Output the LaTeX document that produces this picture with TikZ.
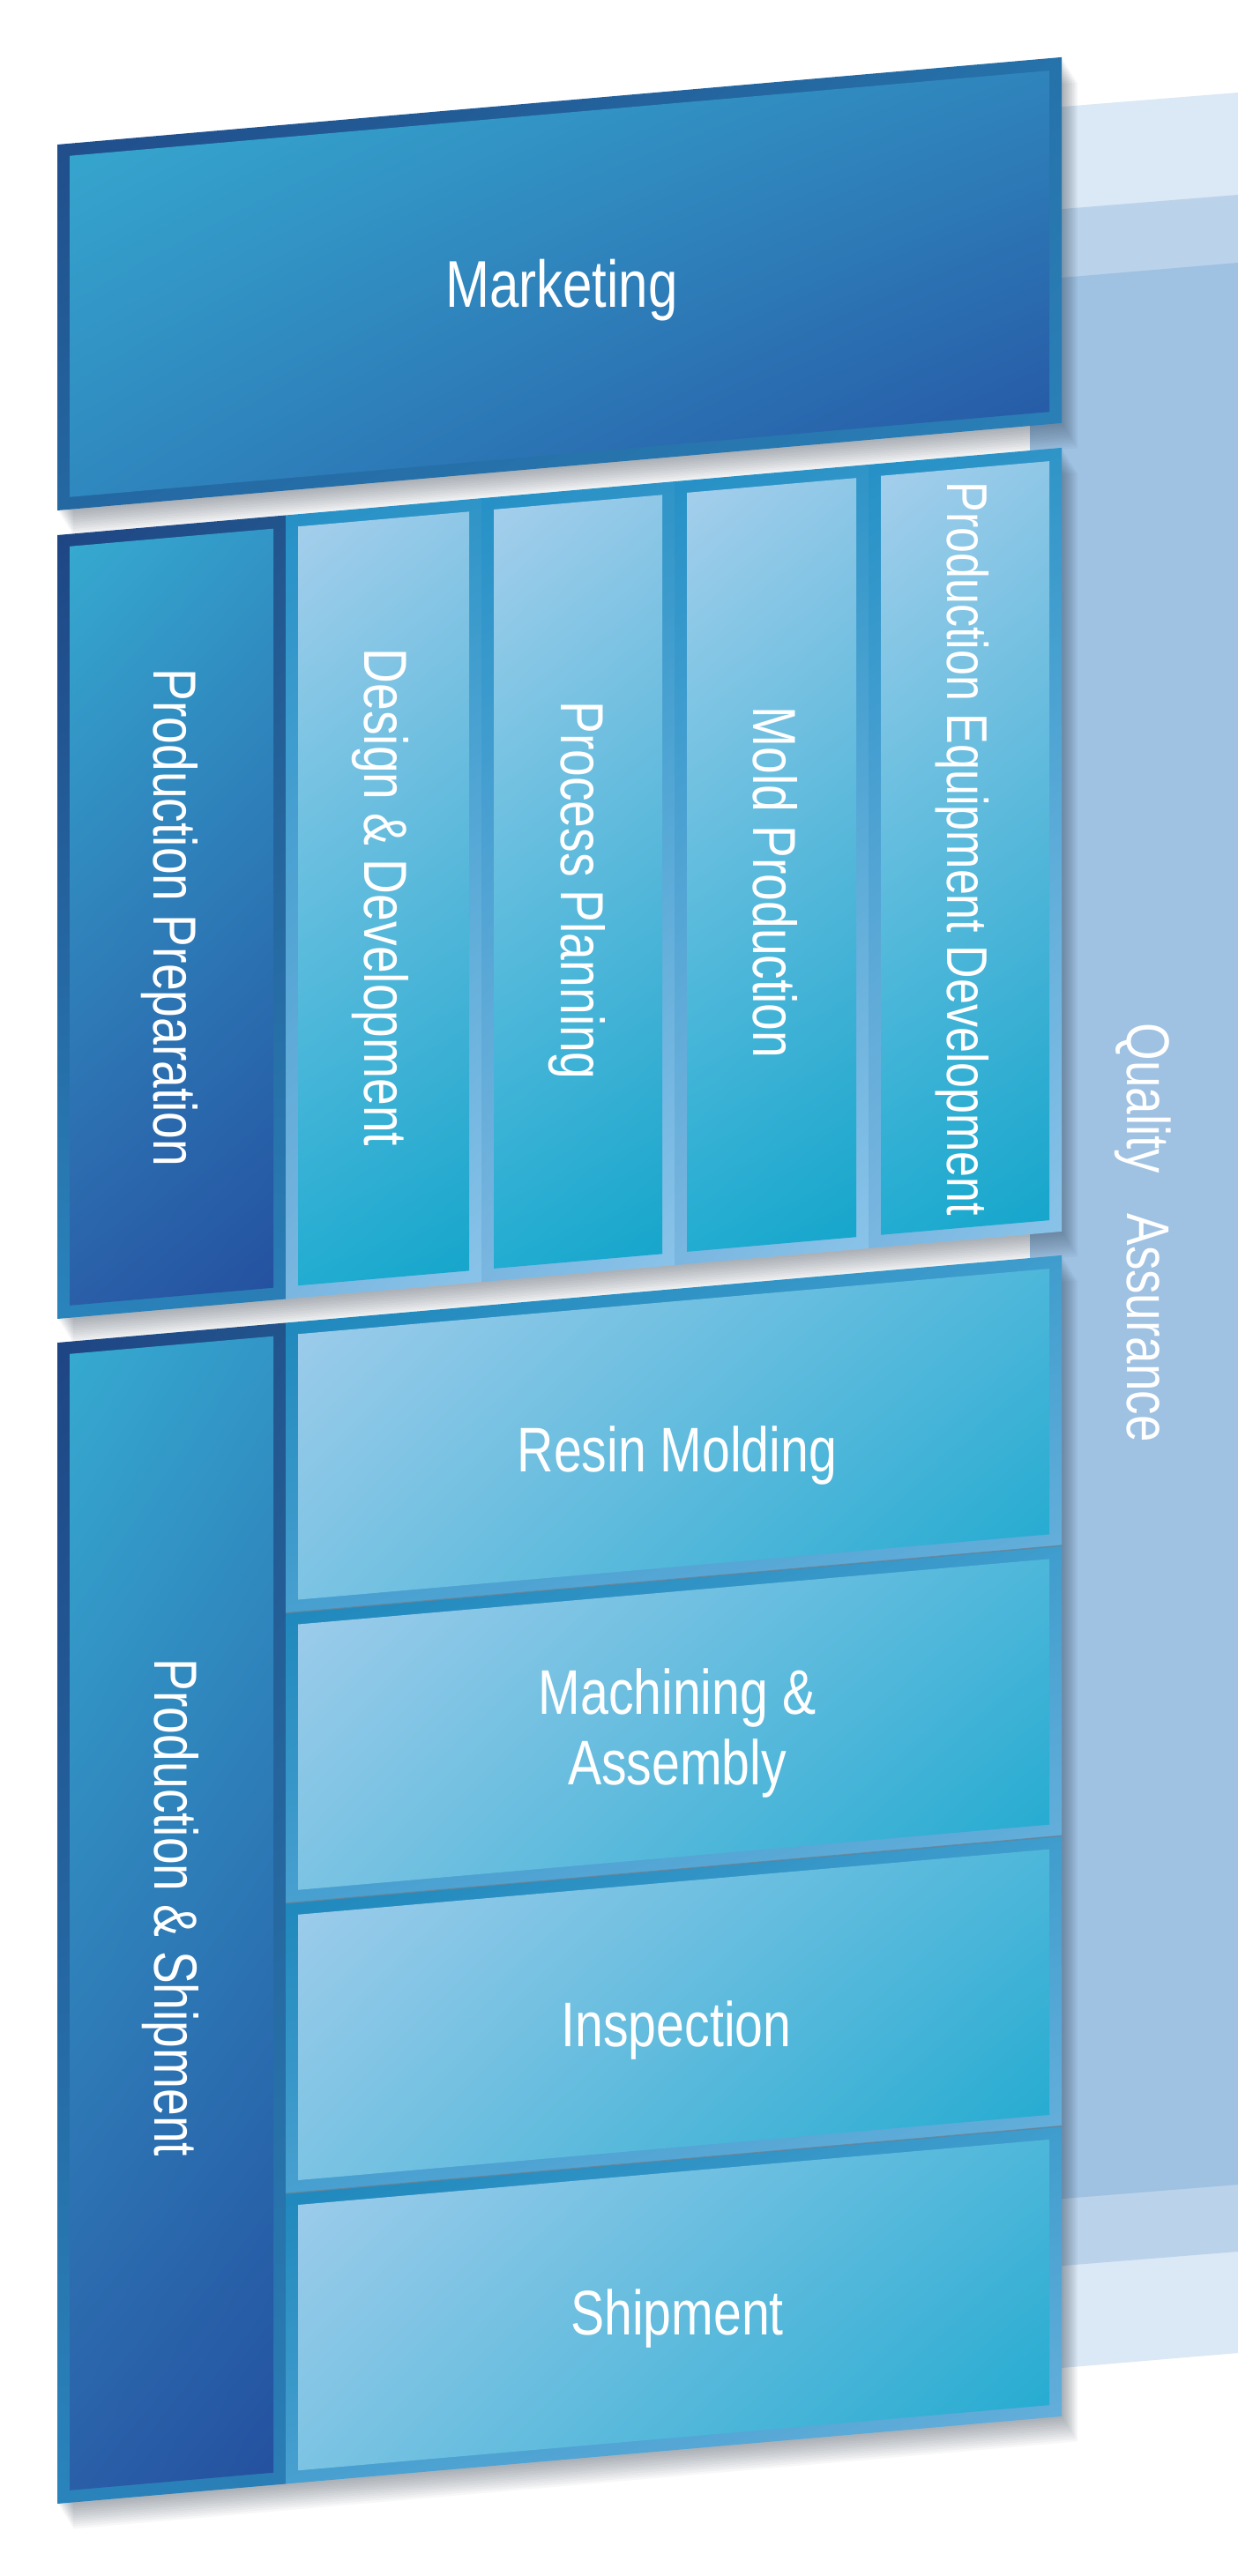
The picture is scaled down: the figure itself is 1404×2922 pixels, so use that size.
\documentclass[tikz,border=0pt]{standalone}
\usepackage{fontspec}
\newfontfamily\cnd{Liberation Sans}[FakeStretch=0.8]
\usetikzlibrary{shadings}
\definecolor{qaL}{HTML}{DBE8F5}
\definecolor{qaM}{HTML}{BBD3EA}
\definecolor{qaD}{HTML}{9FC1E2}
\definecolor{shadowc}{HTML}{203040}
\definecolor{mkUL}{HTML}{37ACD1}\definecolor{mkUR}{HTML}{2F84BC}
\definecolor{mkLL}{HTML}{2F88BF}\definecolor{mkLR}{HTML}{2552A2}
\definecolor{mkfUL}{HTML}{1F4886}\definecolor{mkfUR}{HTML}{2672AA}
\definecolor{mkfLL}{HTML}{2468A2}\definecolor{mkfLR}{HTML}{2B83BA}
\definecolor{pUL}{HTML}{36ABD1}\definecolor{pUR}{HTML}{3296C6}
\definecolor{pLL}{HTML}{2A5FA8}\definecolor{pLR}{HTML}{24509F}
\definecolor{pfUL}{HTML}{1E4483}\definecolor{pfUR}{HTML}{22548C}
\definecolor{pfLL}{HTML}{2A84BC}\definecolor{pfLR}{HTML}{2A7EB6}
\definecolor{cUL}{HTML}{A6CFEC}\definecolor{cUR}{HTML}{8FC7E7}
\definecolor{cLL}{HTML}{22ACD1}\definecolor{cLR}{HTML}{14A5CB}
\definecolor{cfUL}{HTML}{2490C6}\definecolor{cfUR}{HTML}{2F94C7}
\definecolor{cfLL}{HTML}{7AB6E0}\definecolor{cfLR}{HTML}{8CC4EA}
\definecolor{rUL}{HTML}{A3CDEC}\definecolor{rUR}{HTML}{4DB7DA}
\definecolor{rLL}{HTML}{7CC3E3}\definecolor{rLR}{HTML}{1EA9CF}
\definecolor{rfUL}{HTML}{1683B8}\definecolor{rfUR}{HTML}{3F9DCD}
\definecolor{rfLL}{HTML}{48A0D0}\definecolor{rfLR}{HTML}{6CB2DE}
\definecolor{sepline}{HTML}{6A7F90}
\newcommand\slbox[6]{%
  \shade[#5] (#1,#2) rectangle (#3,#4);
  \shade[#6] (#1+14,#2+14) rectangle (#3-14,#4-14);}
\newcommand\rowshadow[4]{%
  \foreach \k in {1,...,12}{\fill[shd] (#1+1.5*\k,#2+2.5*\k) rectangle (#3+1.5*\k,#4+2.5*\k);}}
\begin{document}
\begin{tikzpicture}[x=1pt,y=-1pt,
  shd/.style={fill=shadowc, fill opacity=0.035},
  mkframe/.style={upper left=mkfUL, upper right=mkfUR, lower left=mkfLL, lower right=mkfLR},
  mkinner/.style={upper left=mkUL, upper right=mkUR, lower left=mkLL, lower right=mkLR},
  pframe/.style={upper left=pfUL, upper right=pfUR, lower left=pfLL, lower right=pfLR},
  pinner/.style={upper left=pUL, upper right=pUR, lower left=pLL, lower right=pLR},
  cframe/.style={upper left=cfUL, upper right=cfUR, lower left=cfLL, lower right=cfLR},
  cinner/.style={upper left=cUL, upper right=cUR, lower left=cLL, lower right=cLR},
  rframe/.style={upper left=rfUL, upper right=rfUR, lower left=rfLL, lower right=rfLR},
  rinner/.style={upper left=rUL, upper right=rUR, lower left=rLL, lower right=rLR},
  lbl/.style={text=white, inner sep=0pt, text depth=0pt},
  big/.style={font=\cnd\fontsize{71.5}{80}\selectfont, text height=51.2pt},
  vert/.style={rotate=-90, font=\cnd\fontsize{69}{74}\selectfont, text height=49.4pt},
]
\useasboundingbox[fill=white] (0,0) rectangle (1404,2922);
% Quality Assurance bands
\fill[qaL] (1168,124) -- (1404,105) -- (1404,2669) -- (1168,2689) -- cycle;
\fill[qaM] (1168,240) -- (1404,221) -- (1404,2554) -- (1168,2573) -- cycle;
\fill[qaD] (1168,318) -- (1404,298) -- (1404,2478) -- (1168,2497) -- cycle;
\begin{scope}[yslant=0.087, yshift=-5.655pt]
  % shadows
  \rowshadow{65}{164}{1204}{579}
  \rowshadow{65}{607}{1204}{1496}
  \rowshadow{65}{1523}{1204}{2840}
  % Marketing
  \slbox{65}{164}{1204}{579}{mkframe}{mkinner}
  % Production preparation row
  \slbox{65}{607}{324}{1496}{pframe}{pinner}
  \slbox{324}{607}{546}{1496}{cframe}{cinner}
  \slbox{546}{607}{765}{1496}{cframe}{cinner}
  \slbox{765}{607}{985}{1496}{cframe}{cinner}
  \slbox{985}{607}{1204}{1496}{cframe}{cinner}
  % Production & shipment row
  \slbox{65}{1523}{324}{2840}{pframe}{pinner}
  \slbox{324}{1523}{1204}{1852.25}{rframe}{rinner}
  \slbox{324}{1852.25}{1204}{2181.5}{rframe}{rinner}
  \slbox{324}{2181.5}{1204}{2510.75}{rframe}{rinner}
  \slbox{324}{2510.75}{1204}{2840}{rframe}{rinner}
  \foreach \yy in {1852.25,2181.5,2510.75}{
    \draw[sepline, line width=1.5pt, opacity=0.7] (324,\yy) -- (1204,\yy);}
\end{scope}
% Labels
\node[lbl, font=\cnd\fontsize{75}{80}\selectfont, text height=53.7pt] (mkt) at (637,322) {Marketing};
\node[lbl, vert] (prep) at (199.5,1041) {Production Preparation};
\node[lbl, vert] (design) at (438,1018) {Design \& Development};
\node[lbl, vert] (process) at (661,1010) {Process Planning};
\node[lbl, vert] (mold) at (879,1001) {Mold Production};
\node[lbl, vert, font=\cnd\fontsize{65}{70}\selectfont, text height=46.5pt] (equip) at (1098,963) {Production Equipment Development};
\node[lbl, vert] (ship) at (200,2164) {Production \& Shipment};
\node[lbl, big] (resin) at (768,1644) {Resin Molding};
\node[text=white, inner sep=0pt, align=center, font=\cnd\fontsize{71.5}{80}\selectfont] (mach) at (768,1966) {Machining \&\\Assembly};
\node[lbl, big] (insp) at (767,2296) {Inspection};
\node[lbl, big] (shipm) at (768,2623) {Shipment};
\node[lbl, rotate=-90, font=\cnd\fontsize{68.5}{74}\selectfont, text height=49pt] (qa) at (1303,1398) {Quality~~~Assurance};
\end{tikzpicture}
\end{document}
